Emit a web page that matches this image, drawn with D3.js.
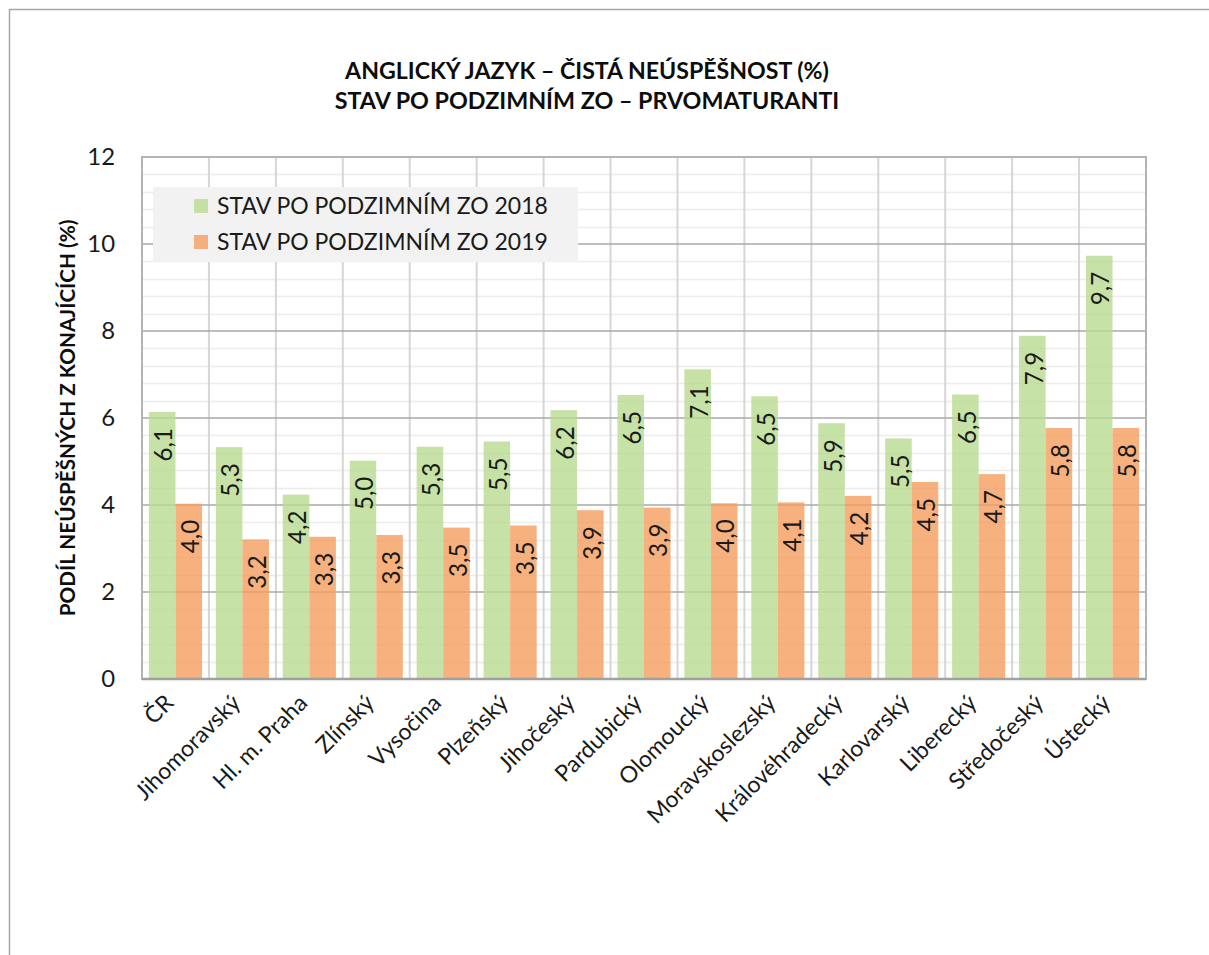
<!DOCTYPE html>
<html><head><meta charset="utf-8">
<script src="https://cdn.jsdelivr.net/npm/d3@7"></script>
<style>body{margin:0;background:#fff}svg{display:block}</style>
</head><body><svg id="c" width="1209" height="955"></svg>
<script>
const categories = ["ČR","Jihomoravský","Hl. m. Praha","Zlínský","Vysočina","Plzeňský","Jihočeský","Pardubický","Olomoucký","Moravskoslezský","Královéhradecký","Karlovarský","Liberecký","Středočeský","Ústecký"];
const values2018 = [6.14,5.33,4.24,5.02,5.34,5.46,6.18,6.53,7.12,6.50,5.88,5.53,6.54,7.89,9.73];
const values2019 = [4.03,3.21,3.27,3.31,3.48,3.53,3.88,3.94,4.04,4.06,4.21,4.53,4.71,5.77,5.77];
const seriesNames = ["STAV PO PODZIMNÍM ZO 2018","STAV PO PODZIMNÍM ZO 2019"];
const yTicks = [0,2,4,6,8,10,12];
const titleLines = ["ANGLICKÝ JAZYK – ČISTÁ NEÚSPĚŠNOST (%)","STAV PO PODZIMNÍM ZO – PRVOMATURANTI"];
const yTitle = "PODÍL NEÚSPĚŠNÝCH Z KONAJÍCÍCH (%)";

const FONT = "Lato, 'Open Sans', sans-serif";
const colors = ["#b8db90","#f49e5e"];
const svg = d3.select("#c");
const P = {l:142, r:1146, t:157, b:679};

// outer border
svg.append("rect").attr("x",9.5).attr("y",9.5).attr("width",1300).attr("height",1000)
  .attr("fill","#fff").attr("stroke","#a6a6a6").attr("stroke-width",1.5);

function fit(sel, target){
  const n = sel.node();
  const w = n.getComputedTextLength();
  const fs = parseFloat(sel.attr("font-size"));
  sel.attr("font-size", fs*target/w);
  return fs*target/w;
}

const x = d3.scaleBand().domain(categories).range([P.l,P.r]).paddingInner(0).paddingOuter(0);
const xi = d3.scaleBand().domain([0,1]).range([0,x.bandwidth()]).paddingInner(0).paddingOuter(0.26);
const y = d3.scaleLinear().domain([0,12]).range([P.b,P.t]);

// minor gridlines
const minor = d3.range(0,12.0001,0.4).filter(v=>Math.abs(v/2-Math.round(v/2))>1e-6);
svg.append("g").selectAll("line").data(minor).join("line")
  .attr("x1",P.l).attr("x2",P.r).attr("y1",d=>Math.round(y(d))+0.5).attr("y2",d=>Math.round(y(d))+0.5)
  .attr("stroke","#ececec").attr("stroke-width",1.5);
// vertical gridlines
svg.append("g").selectAll("line").data(categories.slice(1)).join("line")
  .attr("x1",d=>x(d)).attr("x2",d=>x(d)).attr("y1",P.t).attr("y2",P.b)
  .attr("stroke","#d6d6d6").attr("stroke-width",2);
// major gridlines
svg.append("g").selectAll("line").data(yTicks.slice(1,-1)).join("line")
  .attr("x1",P.l).attr("x2",P.r).attr("y1",d=>y(d)).attr("y2",d=>y(d))
  .attr("stroke","#a9a9a9").attr("stroke-width",1.5);

// bars
const data = categories.map((c,i)=>({c, v:[values2018[i], values2019[i]]}));
const fmt = v => d3.format(".1f")(v).replace(".",",");
const gb = svg.append("g");
[0,1].forEach(s=>{
  gb.append("g").selectAll("rect").data(data).join("rect")
    .attr("x",d=>x(d.c)+xi(s)).attr("width",xi.bandwidth())
    .attr("y",d=>y(d.v[s])).attr("height",d=>y(0)-y(d.v[s]))
    .attr("fill",colors[s]).attr("fill-opacity",0.8);
});

// plot border
svg.append("rect").attr("x",P.l).attr("y",P.t).attr("width",P.r-P.l).attr("height",P.b-P.t)
  .attr("fill","none").attr("stroke","#b4b4b4").attr("stroke-width",2);
svg.append("line").attr("x1",P.l).attr("x2",P.r).attr("y1",P.b).attr("y2",P.b).attr("stroke","#a0a0a0").attr("stroke-width",2.5);

// legend
const lg = svg.append("g");
lg.append("rect").attr("x",153).attr("y",187).attr("width",425).attr("height",75).attr("fill","#f2f2f2");
let legendFs = 24;
seriesNames.forEach((n,i)=>{
  const cy = 206 + i*36;
  lg.append("rect").attr("x",194).attr("y",cy-7).attr("width",14).attr("height",14).attr("fill",colors[i]).attr("fill-opacity",0.8);
  const t = lg.append("text").attr("x",217).attr("y",cy).attr("dy","0.36em")
    .attr("font-family",FONT).attr("font-size",24).attr("fill","#1a1a1a").text(n);
  legendFs = fit(t, 331);
});

// y axis labels
const ya = svg.append("g").attr("transform",`translate(${P.l},0)`)
  .call(d3.axisLeft(y).tickValues(yTicks).tickSize(0).tickPadding(27).tickFormat(d3.format("d")));
ya.select(".domain").remove();
ya.selectAll("text").attr("font-family",FONT).attr("font-size",legendFs*1.04).attr("fill","#1a1a1a");

// x axis labels
const xa = svg.append("g").attr("transform",`translate(0,${P.b})`)
  .call(d3.axisBottom(x).tickSize(0).tickFormat(d=>d));
xa.select(".domain").remove();
xa.selectAll("text").attr("font-family",FONT).attr("font-size",legendFs*1.0).attr("fill","#1a1a1a")
  .attr("text-anchor","end").attr("transform","translate(-12,14) rotate(-45)").attr("dy","0.7em").attr("y",0).attr("x",0);

// data labels
[0,1].forEach(s=>{
  svg.append("g").selectAll("text").data(data).join("text")
    .attr("transform",d=>`translate(${x(d.c)+xi(s)+xi.bandwidth()/2+1.5},${y(d.v[s])+16}) rotate(-90)`)
    .attr("text-anchor","end").attr("dy","0.36em")
    .attr("font-family",FONT).attr("font-size",legendFs*1.05).attr("fill","#1a1a1a")
    .text(d=>fmt(d.v[s]));
});

// title
const tw = [484, 505];
titleLines.forEach((l,i)=>{
  const t = svg.append("text").attr("x",587).attr("y",79+i*30).attr("text-anchor","middle")
    .attr("font-family",FONT).attr("font-weight","bold").attr("font-size",22).attr("fill","#0d0d0d").text(l);
  fit(t, tw[i]);
});

// y title
const yt = svg.append("text").attr("transform",`translate(68,${(P.t+P.b)/2}) rotate(-90)`)
  .attr("text-anchor","middle").attr("dy","0.36em")
  .attr("font-family",FONT).attr("font-weight","bold").attr("font-size",20).attr("fill","#0d0d0d").text(yTitle);
fit(yt, 397);
</script></body></html>
